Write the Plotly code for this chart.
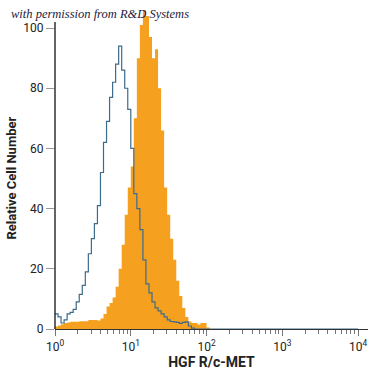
import numpy as np
import plotly.graph_objects as go

# Histogram values (relative cell number) per log-bin of width 0.04 decades starting at 10^0
bin_width_log = 0.04
isotype_values = [5, 4, 2, 3, 5, 5.5, 6.5, 9, 11.5, 14.5, 19, 25, 30, 35, 41, 52, 62, 69, 77, 82,
                  88, 94, 86, 80, 73, 60, 45, 40, 33, 23, 15, 12, 9, 7, 6, 5, 4, 3, 2.5, 2.4,
                  2.2, 1.9, 2.2, 2.4, 1, 0.3]
stained_values = [0.8, 1.2, 1.6, 2, 2.2, 2.4, 2.4, 2.4, 2.6, 2.6, 2.6, 3, 3, 3, 2.8, 3.5, 5, 7.5, 8.6, 10.5,
                  14, 20, 28, 38, 47, 54, 70, 90, 101, 106, 104, 97, 90, 93, 80, 66, 47, 38, 30, 23,
                  16, 11, 7, 4, 2.5, 2, 2, 1.5, 2, 2, 0.5]
x_tick_vals = [1, 10, 100, 1000, 10000]
x_tick_text = ["10<sup>0</sup>", "10<sup>1</sup>", "10<sup>2</sup>", "10<sup>3</sup>", "10<sup>4</sup>"]
y_tick_vals = [0, 20, 40, 60, 80, 100]
x_title = "HGF R/c-MET"
y_title = "Relative Cell Number"
credit = "with permission from R&D Systems"


def step_xy(values, end_log=4.0):
    n = len(values)
    edges = 10 ** (np.arange(n + 1) * bin_width_log)
    xs = list(edges[:n]) + [edges[n], 10 ** end_log]
    ys = list(values) + [0, 0]
    return xs, ys


ox, oy = step_xy(stained_values, 2.2)
bx, by = step_xy(isotype_values, 4.0)

fig = go.Figure()
fig.add_trace(go.Scatter(x=ox, y=oy, mode="lines", line=dict(shape="hv", width=0, color="#F5A01F"),
                         fill="tozeroy", fillcolor="#F5A01F", hoverinfo="skip"))
fig.add_trace(go.Scatter(x=bx, y=by, mode="lines", line=dict(shape="hv", width=1.2, color="#3D6B8C"),
                         hoverinfo="skip"))

minor_vals = [m * 10 ** d for d in range(4) for m in range(2, 10)]

font_family = "Roboto, Liberation Sans, sans-serif"

fig.update_layout(
    width=375, height=375,
    margin=dict(l=55, r=7, t=1, b=46),
    plot_bgcolor="white", paper_bgcolor="white",
    showlegend=False,
    font=dict(family=font_family, size=12, color="#222"),
    xaxis=dict(type="log", range=[0, 4.13], showgrid=False, zeroline=False,
               showline=True, linecolor="#333", linewidth=1.3,
               ticks="outside", ticklen=6, tickcolor="#777", tickwidth=1,
               tickvals=x_tick_vals, ticktext=x_tick_text,
               tickfont=dict(size=12, family=font_family, color="#222"),
               minor=dict(ticks="outside", ticklen=4, tickcolor="#777", tickvals=minor_vals),
               title=dict(text="<b>" + x_title + "</b>", font=dict(size=14, family=font_family, color="#222"),
                          standoff=4)),
    yaxis=dict(range=[0, 109], showgrid=False, zeroline=False, showline=False,
               ticks="outside", ticklen=8, tickcolor="#999", tickwidth=1,
               tickvals=y_tick_vals, tickfont=dict(size=12, family=font_family, color="#222")),
    shapes=[dict(type="line", xref="paper", yref="y", x0=0, x1=0, y0=0, y1=102,
                 line=dict(color="#111", width=1.3))],
    annotations=[
        dict(text="<b>" + y_title + "</b>", textangle=-90, xref="paper", yref="y", x=0, y=50,
             xanchor="center", yanchor="middle", xshift=-43, showarrow=False,
             font=dict(size=13, family=font_family, color="#222")),
        dict(text="<i>" + credit + "</i>", xref="paper", yref="paper", x=0, y=1, xshift=-46, yshift=-13,
             xanchor="left", yanchor="middle", showarrow=False,
             font=dict(size=12.5, family="Liberation Serif, serif", color="#1c2140")),
    ],
)

fig.write_html("out.html", post_script="document.body.style.margin='0';",
               config={"displayModeBar": False})
